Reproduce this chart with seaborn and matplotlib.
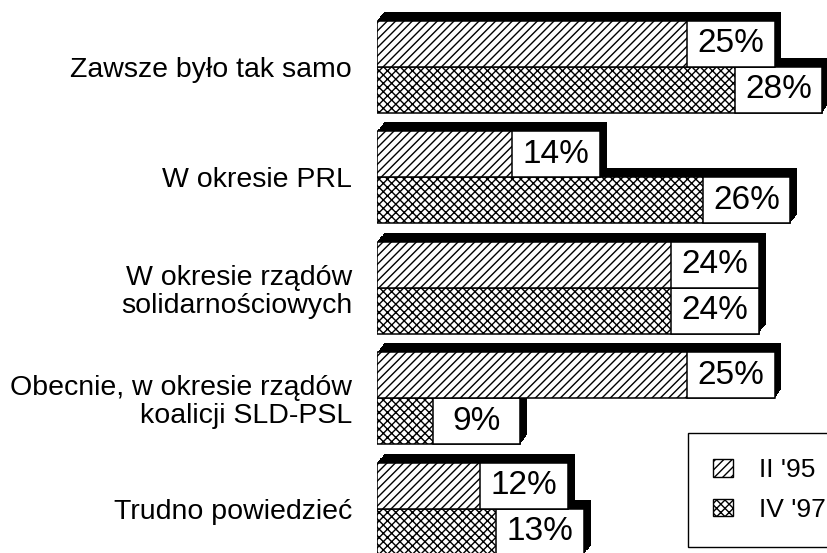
import numpy as np
import pandas as pd
import matplotlib
matplotlib.use("Agg")
import matplotlib.pyplot as plt
import matplotlib.patheffects as pe
from matplotlib.patches import Patch, Rectangle
import seaborn as sns

# --- data ---
categories = [
    "Zawsze było tak samo",
    "W okresie PRL",
    "W okresie rządów\nsolidarnościowych",
    "Obecnie, w okresie rządów\nkoalicji SLD-PSL",
    "Trudno powiedzieć",
]
series_names = ["II '95", "IV '97"]
values_95 = [25, 14, 24, 25, 12]
values_97 = [28, 26, 24, 9, 13]
hatches = ["////", "xxxx"]

df = pd.DataFrame({
    "kategoria": categories * 2,
    "okres": [series_names[0]] * len(categories) + [series_names[1]] * len(categories),
    "procent": values_95 + values_97,
})

sns.set_theme(style="white")
plt.rcParams["font.family"] = ["Liberation Sans", "DejaVu Sans"]
plt.rcParams["text.color"] = "black"
plt.rcParams["hatch.linewidth"] = 1.0
plt.rcParams["hatch.color"] = "black"

fig = plt.figure(figsize=(8.28, 5.53), dpi=100)
ax = fig.add_axes([377 / 828, 0, 451 / 828, 1])

sns.barplot(data=df, y="kategoria", x="procent", hue="okres", hue_order=series_names,
            order=categories, orient="h", palette=["white", "white"], saturation=1,
            edgecolor="black", linewidth=1.1, width=0.832, errorbar=None,
            legend=False, ax=ax)

# 3D extrusion drawn as stacked shadows, up and to the right
steps = 10
shadow = [pe.SimplePatchShadow(offset=(5.0 * k / steps, 6.5 * k / steps),
                               shadow_rgbFace="black", alpha=1) for k in range(1, steps + 1)]
shadow.append(pe.Normal())

box_w = 5.5
for s, cont in enumerate(ax.containers):
    # lower bar of each pair goes underneath the upper one
    z = 4 - 2 * s
    for bar in cont:
        bar.set_hatch(hatches[s])
        bar.set_zorder(z)
        bar.set_path_effects(shadow)
        x_end = bar.get_width()
        y0 = bar.get_y()
        h = bar.get_height()
        ax.add_patch(Rectangle((x_end - box_w, y0), box_w, h, facecolor="white",
                               edgecolor="black", linewidth=1.1, zorder=z + 0.5))
        ax.text(x_end - box_w / 2, y0 + h / 2, f"{x_end:.0f}%", ha="center", va="center",
                fontsize=24, color="black", zorder=z + 0.6)

ax.set_xlim(0, 451 / 15.9)
ax.set_ylim(4.398, -0.603)
ax.set_xlabel("")
ax.set_ylabel("")
ax.set_xticks([])
ax.set_yticks(range(len(categories)))
ax.set_yticklabels(categories, fontsize=20.5, color="black")
for lbl in ax.get_yticklabels():
    lbl.set_linespacing(1.1)
ax.tick_params(axis="y", length=0, pad=18)
for sp in ax.spines.values():
    sp.set_visible(False)

handles = [Patch(facecolor="white", edgecolor="black", hatch=hatches[i], label=series_names[i])
           for i in range(2)]
leg = fig.legend(handles=handles, loc="upper left", bbox_to_anchor=(688 / 828, 1 - 433 / 553),
                 fontsize=19, frameon=True, fancybox=False, framealpha=1, edgecolor="black",
                 handlelength=0.75, handleheight=0.65, handletextpad=1.0, borderpad=0.95,
                 labelspacing=0.6, borderaxespad=0)
leg.get_frame().set_linewidth(1.0)
for t in leg.get_texts():
    t.set_color("black")

fig.savefig("out.png", dpi=100)
